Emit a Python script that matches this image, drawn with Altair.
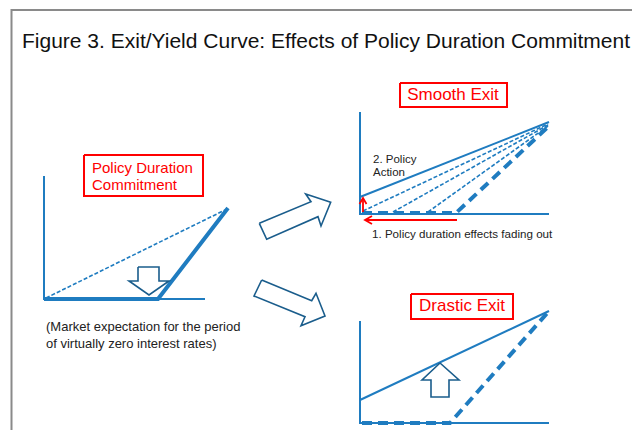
import altair as alt
import pandas as pd

# ---------------- shapes (figure pixel coordinates) ----------------
frame = [(640, 10), (11.5, 10), (11.5, 438)]

# axes (thin solid blue)
left_axes = [(44, 176), (44, 299), (205, 299)]
smooth_axes = [(360, 112), (360, 214), (549, 214)]
drastic_axes = [(360, 321), (360, 423), (549, 423)]
smooth_solid = [(360, 197), (549, 122)]
drastic_solid = [(360, 400), (549, 311)]

# thick solid curve (policy duration commitment)
left_curve = [(44, 299), (158, 299), (228, 208)]

# thin dashed curves
left_dashed = [(46, 298), (227, 209)]
smooth_dash_1 = [(363, 211), (548, 124)]
smooth_dash_2 = [(393, 212), (548, 125)]
smooth_dash_3 = [(428, 212), (548, 126)]

# thick dashed curves
smooth_thick = [(362, 213), (456, 213), (549, 126)]
drastic_thick = [(362, 423), (450, 423), (549, 311)]

# outline arrows (dark blue)
down_arrow = [(138, 267), (159, 267), (159, 281), (169, 281), (149, 295),
              (129, 281), (138, 281), (138, 267)]
up_arrow = [(440, 363), (459, 380), (449, 380), (449, 397), (431, 397),
            (431, 380), (422, 380), (440, 363)]
big_arrow_up = [(259.3, 223.3), (311, 201.7), (305.7, 194), (330.7, 202.3),
                (321, 226), (318, 216.7), (266.7, 239.3), (259.3, 223.3)]
big_arrow_down = [(261.7, 280), (311.7, 300.7), (316, 293.3), (325, 316),
                  (301, 325.7), (305, 316.7), (254, 296), (261.7, 280)]

# red arrows
red_left_line = [(457, 220), (366, 220)]
red_left_head = [(372, 216), (365, 220), (372, 224)]
red_up_line = [(363, 212), (363, 199)]
red_up_head = [(359.5, 204), (363, 198), (366.5, 204)]

# red label boxes
box_pdc = [(84, 155), (203, 155), (203, 196), (84, 196), (84, 155)]
box_smooth = [(400, 83), (507, 83), (507, 107), (400, 107), (400, 83)]
box_drastic = [(411, 294), (513, 294), (513, 319), (411, 319), (411, 294)]

# texts
title_text = "Figure 3. Exit/Yield Curve: Effects of Policy Duration Commitment"
left_texts = [
    ("Policy Duration", 92, 168, "#ff0000", 15),
    ("Commitment", 92, 185, "#ff0000", 15),
    ("2. Policy", 373, 160, "#222222", 11.5),
    ("Action", 373, 173, "#222222", 11.5),
    ("1. Policy duration effects fading out", 372, 235, "#222222", 11.6),
    ("(Market expectation for the period", 46, 327, "#222222", 13),
    ("of virtually zero interest rates)", 46, 344, "#222222", 13),
    (title_text, 22, 42, "#111111", 21),
]
center_texts = [
    ("Smooth Exit", 453, 95, "#ff0000", 17),
    ("Drastic Exit", 462, 306, "#ff0000", 17),
]

BLUE = "#1f7cc0"
DARK = "#1a5d8c"
RED = "#ff0000"
FONT = "Liberation Sans"

X = alt.Scale(domain=[8, 632], nice=False, zero=False)
Y = alt.Scale(domain=[8, 430], nice=False, zero=False, reverse=True)


def paths(named):
    rows = []
    for pid, pts in named.items():
        for i, (x, y) in enumerate(pts):
            rows.append({"pid": pid, "i": i, "x": x, "y": y})
    return pd.DataFrame(rows)


def line_layer(named, color, width, dash=None, join="miter"):
    kw = dict(color=color, strokeWidth=width, clip=False, strokeJoin=join)
    if dash is not None:
        kw["strokeDash"] = dash
    return alt.Chart(paths(named)).mark_line(**kw).encode(
        x=alt.X("x:Q", scale=X, axis=None),
        y=alt.Y("y:Q", scale=Y, axis=None),
        detail="pid:N",
        order="i:Q",
    )


def text_layer(items, align):
    df = pd.DataFrame(items, columns=["t", "x", "y", "c", "s"])
    return alt.Chart(df).mark_text(align=align, baseline="middle", font=FONT).encode(
        x=alt.X("x:Q", scale=X, axis=None),
        y=alt.Y("y:Q", scale=Y, axis=None),
        text="t:N",
        color=alt.Color("c:N", scale=None),
        size=alt.Size("s:Q", scale=None),
    )


layers = [
    line_layer({"frame": frame}, "#8a8a8a", 2),
    line_layer({"a": left_axes, "b": smooth_axes, "c": drastic_axes,
                "d": smooth_solid, "e": drastic_solid}, BLUE, 2),
    line_layer({"a": left_curve}, BLUE, 4),
    line_layer({"a": left_dashed, "b": smooth_dash_1, "c": smooth_dash_2,
                "d": smooth_dash_3}, BLUE, 1.6, dash=[4, 2]),
    line_layer({"a": smooth_thick, "b": drastic_thick}, BLUE, 4, dash=[10, 6]),
    line_layer({"a": down_arrow, "b": up_arrow, "c": big_arrow_up,
                "d": big_arrow_down}, DARK, 1.6),
    line_layer({"a": red_left_line, "b": red_left_head, "c": red_up_line,
                "d": red_up_head}, RED, 1.8),
    line_layer({"a": box_pdc, "b": box_smooth, "c": box_drastic}, RED, 2),
    text_layer(left_texts, "left"),
    text_layer(center_texts, "center"),
]

chart = alt.layer(*layers).properties(
    width=624, height=422, padding=0, autosize="none", background="white"
).configure_view(strokeWidth=0)

chart.save("out.html", embed_options={"renderer": "svg", "actions": False})
